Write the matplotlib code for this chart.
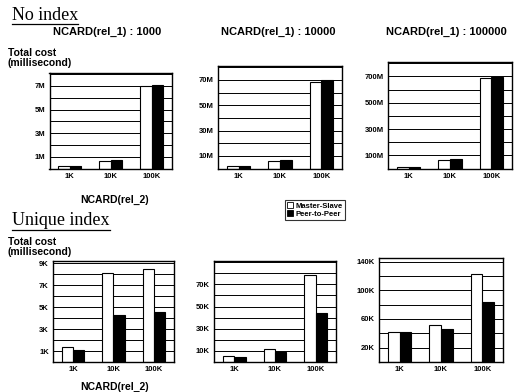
import numpy as np
import matplotlib.pyplot as plt
from matplotlib.lines import Line2D
from matplotlib.patches import Patch

plt.rcParams['font.family'] = ['Liberation Sans', 'DejaVu Sans']
plt.rcParams['font.weight'] = 'bold'

# x categories: NCARD(rel_2)
sizes = ['1K', '10K', '100K']
col_titles = ['NCARD(rel_1) : 1000', 'NCARD(rel_1) : 10000', 'NCARD(rel_1) : 100000']

# No index, total cost in M milliseconds
noidx_ms_1000 = [0.22, 0.65, 7.0]
noidx_pp_1000 = [0.2, 0.72, 7.05]
noidx_ms_10000 = [2.0, 6.0, 68.0]
noidx_pp_10000 = [1.8, 6.5, 70.0]
noidx_ms_100000 = [12, 65, 690]
noidx_pp_100000 = [10, 70, 697]

# Unique index, total cost in K milliseconds
uniq_ms_1000 = [1.35, 8.1, 8.45]
uniq_pp_1000 = [1.05, 4.25, 4.55]
uniq_ms_10000 = [5.0, 12.0, 78.0]
uniq_pp_10000 = [4.5, 9.0, 44.0]
uniq_ms_100000 = [42, 51, 122]
uniq_pp_100000 = [42, 46, 83]

# y tick labels per panel
ticks_noidx = [[1, 3, 5, 7], [10, 30, 50, 70], [100, 300, 500, 700]]
ticks_uniq = [[1, 3, 5, 7, 9], [10, 30, 50, 70], [20, 60, 100, 140]]

# (MS, PP, ticks, suffix, y max, grid step)
panels = [
    (noidx_ms_1000, noidx_pp_1000, ticks_noidx[0], 'M', 8.1, 1),
    (noidx_ms_10000, noidx_pp_10000, ticks_noidx[1], 'M', 81, 10),
    (noidx_ms_100000, noidx_pp_100000, ticks_noidx[2], 'M', 810, 100),
    (uniq_ms_1000, uniq_pp_1000, ticks_uniq[0], 'K', 9.2, 1),
    (uniq_ms_10000, uniq_pp_10000, ticks_uniq[1], 'K', 91, 10),
    (uniq_ms_100000, uniq_pp_100000, ticks_uniq[2], 'K', 145, 20),
]

# axes rectangles in pixels (left, top, right, bottom) of a 524x392 figure
W, H = 524, 392
rects = [(49.5, 73, 172, 168.5), (218, 66, 342, 168.5), (388, 62, 512, 168.5),
         (53, 261, 174, 362), (214, 261, 336, 362), (379, 258, 503, 362)]
title_x = [107, 278, 446]

fig = plt.figure(figsize=(W / 100, H / 100), dpi=100, facecolor='white')

x = np.arange(len(sizes))
bw = 0.28
for i, ((ms, pp, yt, suf, top, step), r) in enumerate(zip(panels, rects)):
    l, t, rr, b = r
    ax = fig.add_axes([l / W, 1 - b / H, (rr - l) / W, (b - t) / H])
    ax.set_axisbelow(True)
    ax.bar(x - bw / 2, ms, bw, color='white', edgecolor='black', lw=0.8)
    ax.bar(x + bw / 2, pp, bw, color='black', edgecolor='black', lw=0.8)
    ax.set_xlim(-0.5, 2.5)
    ax.set_ylim(0, top)
    ax.set_yticks(yt)
    ax.set_yticklabels([f'{v}{suf}' for v in yt])
    ax.set_yticks(np.arange(step, top, step), minor=True)
    ax.set_xticks(x)
    ax.set_xticklabels(sizes)
    ax.grid(True, axis='y', which='both', color='black', lw=0.7)
    ax.tick_params(which='both', length=0, labelsize=5.5, pad=3)
    for s in ax.spines.values():
        s.set_linewidth(1.0)
    if i < 3:
        fig.text(title_x[i] / W, 1 - 32 / H, col_titles[i], fontsize=8,
                 ha='center', va='center')

fig.text(115 / W, 1 - 200 / H, 'NCARD(rel_2)', fontsize=7.5, ha='center', va='center')
fig.text(115 / W, 1 - 387 / H, 'NCARD(rel_2)', fontsize=7.5, ha='center', va='center')
fig.text(8 / W, 1 - 58 / H, 'Total cost\n(millisecond)', fontsize=7.5, ha='left',
         va='center', linespacing=0.9)
fig.text(8 / W, 1 - 247 / H, 'Total cost\n(millisecond)', fontsize=7.5, ha='left',
         va='center', linespacing=0.9)

h1 = fig.text(12 / W, 1 - 20 / H, 'No index', fontsize=13, fontweight='normal',
              family='Liberation Serif', ha='left', va='baseline')
h2 = fig.text(12 / W, 1 - 225 / H, 'Unique index', fontsize=13, fontweight='normal',
              family='Liberation Serif', ha='left', va='baseline')

leg = fig.legend([Patch(facecolor='white', edgecolor='black', lw=0.6),
                  Patch(facecolor='black', edgecolor='black', lw=0.6)],
                 ['Master-Slave', 'Peer-to-Peer'], loc='center',
                 bbox_to_anchor=(315 / W, 1 - 210 / H), fontsize=5.5,
                 frameon=True, fancybox=False, handlelength=0.7, handleheight=0.7,
                 handletextpad=0.4, borderpad=0.3, labelspacing=0.1, borderaxespad=0)
leg.get_frame().set_edgecolor('black')
leg.get_frame().set_linewidth(0.8)

# underline the section headers
fig.canvas.draw()
rend = fig.canvas.get_renderer()
for h, uy in [(h1, 24), (h2, 230)]:
    bb = h.get_window_extent(rend)
    fig.add_artist(Line2D([bb.x0 / W, bb.x1 / W], [1 - uy / H, 1 - uy / H],
                          transform=fig.transFigure, color='black', lw=0.9))

fig.savefig('out.png', dpi=100)
